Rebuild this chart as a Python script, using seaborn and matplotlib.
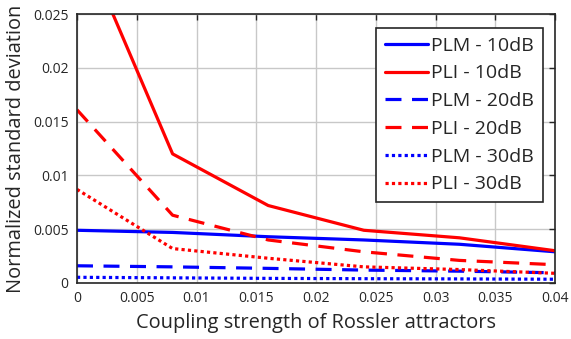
import numpy as np
import pandas as pd
import matplotlib
matplotlib.use("Agg")
import matplotlib.pyplot as plt
import seaborn as sns
from matplotlib.ticker import FuncFormatter

coupling = [0.0, 0.008, 0.016, 0.024, 0.032, 0.04]

plm_10db = [0.0049, 0.0047, 0.0043, 0.0040, 0.0036, 0.0029]
pli_10db = [0.0328, 0.0120, 0.0072, 0.0049, 0.0042, 0.0030]
plm_20db = [0.0016, 0.0015, 0.00136, 0.0012, 0.0011, 0.00095]
pli_20db = [0.0161, 0.0063, 0.0040, 0.0029, 0.0021, 0.0017]
plm_30db = [0.00053, 0.00048, 0.00043, 0.0004, 0.00038, 0.00035]
pli_30db = [0.0087, 0.0032, 0.0023, 0.0015, 0.00125, 0.0009]

labels = ["PLM - 10dB", "PLI - 10dB", "PLM - 20dB", "PLI - 20dB", "PLM - 30dB", "PLI - 30dB"]
series = [plm_10db, pli_10db, plm_20db, pli_20db, plm_30db, pli_30db]
colors = ["#0000ff", "#ff0000", "#0000ff", "#ff0000", "#0000ff", "#ff0000"]
dash_styles = [(None, None), (None, None), (5, 3.3), (5, 3.3), (1, 1), (1, 1)]

sns.set_theme(style="white")
plt.rcParams["font.family"] = ["Open Sans", "DejaVu Sans"]

fig = plt.figure(figsize=(5.71, 3.39), dpi=100)
ax = fig.add_axes([77 / 571, 1 - 283 / 339, 478 / 571, 269 / 339])

for lab, vals, col, ds in zip(labels, series, colors, dash_styles):
    df = pd.DataFrame({"x": coupling, "y": vals})
    line = sns.lineplot(data=df, x="x", y="y", ax=ax, color=col, linewidth=2.3,
                        label=lab).get_lines()[-1]
    if ds[0] is None:
        line.set_linestyle("-")
    else:
        line.set_dashes(ds)

ax.set_xlim(0, 0.04)
ax.set_ylim(0, 0.025)
ax.set_xticks(np.arange(0, 0.0401, 0.005))
ax.set_yticks(np.arange(0, 0.0251, 0.005))
fmt = FuncFormatter(lambda v, p: "0" if abs(v) < 1e-12 else f"{v:g}")
ax.xaxis.set_major_formatter(fmt)
ax.yaxis.set_major_formatter(fmt)

ax.grid(True, color="#c8c8c8", linewidth=1.0)
for s in ax.spines.values():
    s.set_color("#262626")
    s.set_linewidth(1.2)
ax.tick_params(direction="in", length=4, width=1.0, color="#262626",
               top=True, right=True, labelsize=10, labelcolor="#262626", pad=6)

ax.set_xlabel("Coupling strength of Rossler attractors", fontsize=14.4, color="#262626", labelpad=5)
ax.set_ylabel("Normalized standard deviation", fontsize=14.4, color="#262626", labelpad=5)

leg = ax.legend(loc="upper right", bbox_to_anchor=(0.975, 0.948), borderaxespad=0,
                fontsize=14, frameon=True, fancybox=False, framealpha=1,
                edgecolor="#262626", handlelength=2.2, labelspacing=0.5,
                handletextpad=0.2, borderpad=0.45)
leg.get_frame().set_linewidth(1.2)
for t in leg.get_texts():
    t.set_color("#262626")

fig.savefig("out.png", dpi=100)
